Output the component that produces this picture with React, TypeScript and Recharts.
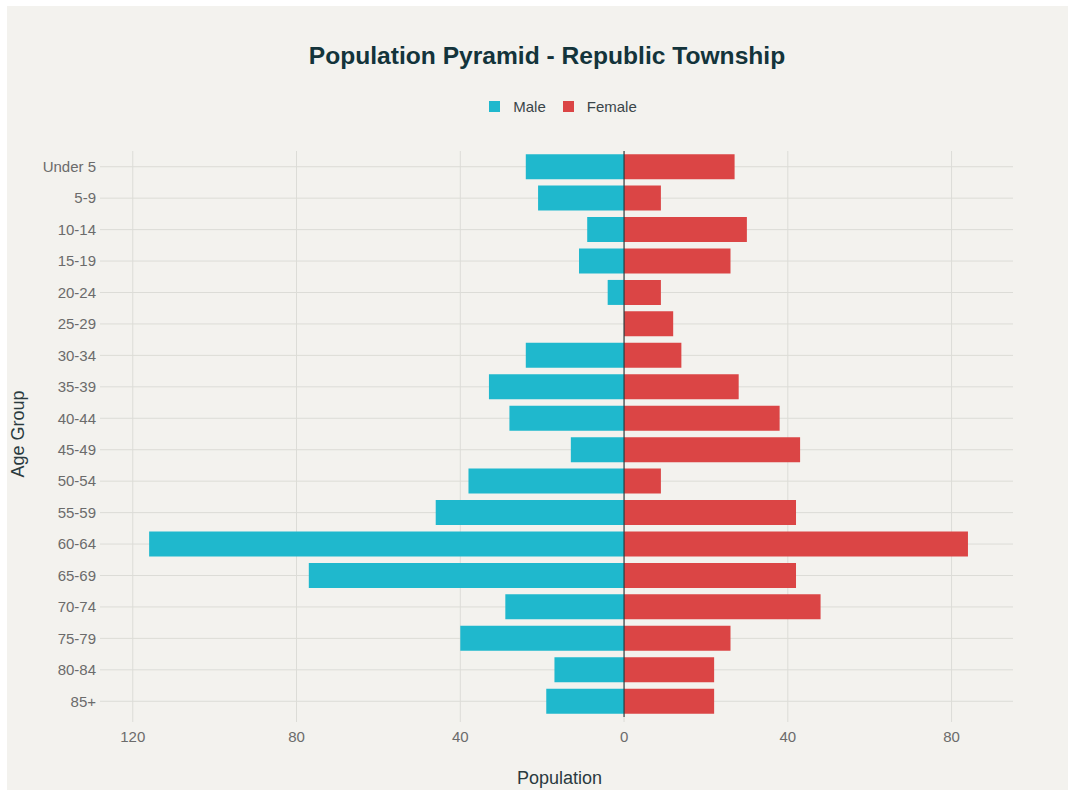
import React from 'react';
import {
  BarChart,
  Bar,
  XAxis,
  YAxis,
  ReferenceLine,
  Label,
} from 'recharts';

// Age groups, top to bottom
const AGE_GROUPS = [
  'Under 5', '5-9', '10-14', '15-19', '20-24', '25-29', '30-34', '35-39', '40-44',
  '45-49', '50-54', '55-59', '60-64', '65-69', '70-74', '75-79', '80-84', '85+',
];

const MALE = [24, 21, 9, 11, 4, 0, 24, 33, 28, 13, 38, 46, 116, 77, 29, 40, 17, 19];
const FEMALE = [27, 9, 30, 26, 9, 12, 14, 28, 38, 43, 9, 42, 84, 42, 48, 26, 22, 22];

const X_TICKS = [-120, -80, -40, 0, 40, 80];

const MALE_COLOR = '#1FB8CD';
const FEMALE_COLOR = '#DB4545';
const GRID = '#dcdcd7';
const FONT = '"Liberation Sans", Arial, sans-serif';

const data = AGE_GROUPS.map((age, i) => ({
  age,
  Male: -MALE[i],
  Female: FEMALE[i],
}));

const LEGEND = [
  { name: 'Male', color: MALE_COLOR },
  { name: 'Female', color: FEMALE_COLOR },
];

export default function App() {
  return (
    <div
      style={{
        position: 'absolute',
        left: 0,
        top: 0,
        width: 1074,
        height: 793,
        background: '#ffffff',
        fontFamily: FONT,
      }}
    >
      <div
        style={{
          position: 'absolute',
          left: 7,
          top: 6,
          width: 1061,
          height: 784,
          background: '#f3f2ee',
        }}
      />
      <div
        style={{
          position: 'absolute',
          left: 0,
          top: 42,
          width: 1094,
          textAlign: 'center',
          fontSize: 24.6,
          fontWeight: 700,
          color: '#13343b',
        }}
      >
        Population Pyramid - Republic Township
      </div>
      <div
        style={{
          position: 'absolute',
          left: 16,
          top: 98,
          width: 1094,
          display: 'flex',
          justifyContent: 'center',
          alignItems: 'center',
          fontSize: 15,
          color: '#3a4549',
        }}
      >
        {LEGEND.map((l, i) => (
          <div key={l.name} style={{ display: 'flex', alignItems: 'center', marginLeft: i ? 17 : 0 }}>
            <span style={{ width: 11, height: 11, background: l.color, display: 'inline-block', marginRight: 13 }} />
            <span>{l.name}</span>
          </div>
        ))}
      </div>
      <div style={{ position: 'absolute', left: 0, top: 0 }}>
        <BarChart
          width={1074}
          height={793}
          data={data}
          layout="vertical"
          stackOffset="sign"
          barCategoryGap="10%"
          margin={{ top: 151, right: 61, bottom: 46, left: 20 }}
        >
          <XAxis
            type="number"
            domain={[-128, 95]}
            ticks={X_TICKS}
            tickFormatter={(v: number) => String(Math.abs(v))}
            axisLine={false}
            tickLine={{ stroke: GRID }}
            tickSize={5}
            tick={{ fill: '#6b6b6b', fontSize: 15, fontFamily: FONT }}
            tickMargin={9}
            height={30}
          >
            <Label
              value="Population"
              position="bottom"
              offset={24}
              dx={3}
              style={{ fill: '#2a3a3e', fontSize: 18, fontFamily: FONT }}
            />
          </XAxis>
          <YAxis
            type="category"
            dataKey="age"
            width={80}
            axisLine={false}
            tickLine={false}
            tickSize={0}
            tickMargin={4}
            tick={{ fill: '#6b6b6b', fontSize: 15, fontFamily: FONT }}
            interval={0}
          >
            <Label
              value="Age Group"
              angle={-90}
              position="insideLeft"
              offset={-2}
              style={{ fill: '#2a3a3e', fontSize: 18, fontFamily: FONT, textAnchor: 'middle' }}
            />
          </YAxis>
          {X_TICKS.filter((t) => t !== 0).map((t) => (
            <ReferenceLine key={`v${t}`} x={t} stroke={GRID} strokeWidth={1} zIndex={-100} />
          ))}
          {AGE_GROUPS.map((a) => (
            <ReferenceLine key={`h${a}`} y={a} stroke={GRID} strokeWidth={1} zIndex={-100} />
          ))}
          <Bar dataKey="Male" stackId="p" fill={MALE_COLOR} isAnimationActive={false} />
          <Bar dataKey="Female" stackId="p" fill={FEMALE_COLOR} isAnimationActive={false} />
          <ReferenceLine x={0} stroke="#2b3a3e" strokeWidth={1.2} />
        </BarChart>
      </div>
    </div>
  );
}
